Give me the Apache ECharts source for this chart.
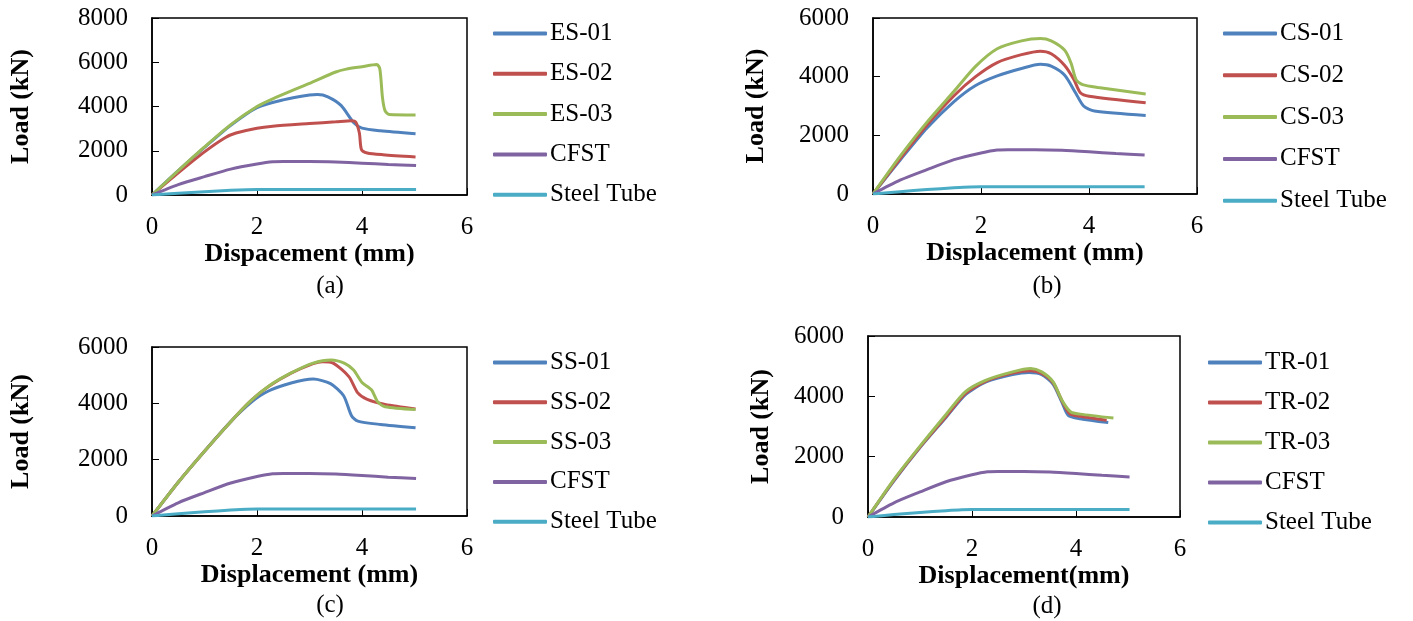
<!DOCTYPE html>
<html lang="en">
<head>
  <meta charset="UTF-8" />
  <title>Load - displacement curves</title>
  <style>
    body { margin: 0; background: #fff }
    #chart { width: 1413px; height: 621px }
  </style>
  <script src="https://cdn.jsdelivr.net/npm/echarts@6/dist/echarts.min.js"></script>
</head>
<body>
  <div id="chart"></div>
  <script>
    // [displacement (mm), load (kN)]

    // shared reference curves
    const cfst = [[0,0],[0.5,470],[1.0,830],[1.5,1170],[2.0,1400],[2.3,1500],[2.5,1510],[3.0,1510],[3.5,1490],[4.0,1440],[4.5,1380],[5.03,1330]];
    const steelTube = [[0,0],[0.5,80],[1.0,150],[1.5,210],[1.8,240],[2.0,245],[3.0,245],[4.0,245],[5.03,250]];

    // (a)
    const es01 = [[0,0],[0.5,1100],[1.0,2150],[1.5,3150],[2.0,3950],[2.5,4300],[3.0,4520],[3.15,4540],[3.35,4440],[3.6,4050],[3.85,3250],[4.0,3020],[4.35,2900],[5.02,2770]];
    const es02 = [[0,0],[0.5,1000],[1.0,1950],[1.4,2600],[1.6,2800],[2.0,3020],[2.3,3110],[3.0,3230],[3.5,3310],[3.8,3360],[3.88,3300],[3.95,2800],[3.99,2050],[4.1,1900],[4.4,1820],[5.02,1720]];
    const es03 = [[0,0],[0.5,1100],[1.0,2170],[1.5,3180],[2.0,4000],[2.3,4350],[3.0,5050],[3.5,5560],[3.7,5690],[4.0,5800],[4.28,5900],[4.34,5700],[4.39,4400],[4.44,3800],[4.52,3640],[5.02,3620]];

    // (b)
    const cs01 = [[0,0],[0.5,1150],[1.0,2250],[1.5,3150],[1.9,3700],[2.3,4030],[2.75,4280],[3.1,4420],[3.3,4360],[3.55,4050],[3.75,3450],[3.9,3000],[4.1,2830],[5.05,2680]];
    const cs02 = [[0,0],[0.5,1200],[1.0,2350],[1.5,3350],[1.9,4000],[2.3,4480],[2.75,4750],[3.1,4870],[3.3,4780],[3.55,4380],[3.72,3900],[3.84,3450],[4.0,3330],[5.05,3110]];
    const cs03 = [[0,0],[0.5,1280],[1.0,2450],[1.5,3500],[1.9,4350],[2.3,4950],[2.75,5220],[3.1,5300],[3.3,5220],[3.55,4900],[3.67,4450],[3.76,3900],[3.88,3730],[4.17,3630],[5.05,3410]];

    // (c)
    const ss01 = [[0,0],[0.5,1200],[1.0,2300],[1.5,3350],[1.9,4050],[2.2,4420],[2.65,4720],[3.07,4860],[3.4,4700],[3.65,4270],[3.8,3560],[3.92,3370],[4.35,3250],[5.02,3130]];
    const ss02 = [[0,0],[0.5,1200],[1.0,2300],[1.5,3350],[1.9,4120],[2.22,4600],[2.65,5070],[3.07,5410],[3.25,5480],[3.46,5420],[3.75,4950],[3.92,4370],[4.1,4140],[4.44,3960],[5.02,3800]];
    const ss03 = [[0,0],[0.5,1200],[1.0,2300],[1.5,3350],[1.9,4120],[2.22,4610],[2.65,5080],[3.07,5430],[3.41,5540],[3.67,5420],[3.84,5180],[4.0,4740],[4.18,4480],[4.3,4050],[4.44,3880],[5.02,3780]];

    // (d)
    const tr01 = [[0,0],[0.5,1200],[1.0,2300],[1.5,3300],[1.87,4050],[2.26,4470],[2.78,4720],[3.1,4790],[3.34,4720],[3.56,4400],[3.73,3800],[3.85,3370],[4.08,3260],[4.62,3130]];
    const tr02 = [[0,0],[0.5,1220],[1.0,2320],[1.5,3330],[1.87,4090],[2.26,4500],[2.78,4770],[3.13,4850],[3.34,4760],[3.56,4450],[3.73,3850],[3.88,3420],[4.08,3340],[4.59,3210]];
    const tr03 = [[0,0],[0.5,1250],[1.0,2350],[1.5,3400],[1.87,4150],[2.26,4530],[2.78,4810],[3.13,4920],[3.34,4810],[3.56,4480],[3.73,3870],[3.9,3480],[4.08,3410],[4.72,3280]];

    const xTicks = [0, 2, 4, 6];
    const yMaxes = [8000, 6000, 6000, 6000];
    const xTitles = ['Dispacement (mm)', 'Displacement (mm)', 'Displacement (mm)', 'Displacement(mm)'];
    const captions = ['(a)', '(b)', '(c)', '(d)'];

    const panels = [
      { names: ['ES-01', 'ES-02', 'ES-03'], data: [es01, es02, es03] },
      { names: ['CS-01', 'CS-02', 'CS-03'], data: [cs01, cs02, cs03] },
      { names: ['SS-01', 'SS-02', 'SS-03'], data: [ss01, ss02, ss03] },
      { names: ['TR-01', 'TR-02', 'TR-03'], data: [tr01, tr02, tr03] }
    ];

    // excel 2010 palette
    const colors = ['#4F81BD', '#C0504D', '#9BBB59', '#8064A2', '#4BACC6'];
    const font = 'Liberation Serif';

    // layout of the four panels (px)
    const grids = [
      { left: 152, top: 18, width: 315, height: 177 },
      { left: 873, top: 18, width: 324, height: 176 },
      { left: 152, top: 347, width: 315, height: 169 },
      { left: 868, top: 336, width: 312, height: 181 }
    ];
    const legendPos = [
      { left: 493, top: 21, itemGap: 15.3 },
      { left: 1223, top: 21, itemGap: 16.8 },
      { left: 493, top: 350, itemGap: 14.8 },
      { left: 1208, top: 350, itemGap: 15 }
    ];
    const yNameGap = [118, 104, 118, 94];
    const captionPos = [[330, 286], [1047, 286], [330, 605], [1047, 606]];

    const chart = echarts.init(document.getElementById('chart'));

    const option = {
      animation: false,
      backgroundColor: '#fff',
      color: colors,
      grid: grids.map(g => Object.assign({ show: true, borderColor: '#000', borderWidth: 1.5 }, g)),
      xAxis: grids.map((g, i) => ({
        type: 'value', gridIndex: i,
        min: xTicks[0], max: xTicks[xTicks.length - 1], interval: 2,
        name: xTitles[i], nameLocation: 'middle', nameGap: 41,
        nameTextStyle: { fontFamily: font, fontWeight: 'bold', fontSize: 26, color: '#000' },
        axisLine: { lineStyle: { color: '#000', width: 1.5 } },
        axisTick: { inside: true, length: 7, lineStyle: { color: '#000' } },
        axisLabel: { fontFamily: font, fontSize: 25, color: '#000', margin: 20 },
        splitLine: { show: false }
      })),
      yAxis: grids.map((g, i) => ({
        type: 'value', gridIndex: i,
        min: 0, max: yMaxes[i], interval: 2000,
        name: 'Load (kN)', nameLocation: 'middle', nameGap: yNameGap[i],
        nameTextStyle: { fontFamily: font, fontWeight: 'bold', fontSize: 26, color: '#000' },
        axisLine: { show: true, lineStyle: { color: '#000', width: 1.5 } },
        axisTick: { show: true, inside: true, length: 7, lineStyle: { color: '#000' } },
        axisLabel: { fontFamily: font, fontSize: 25, color: '#000', margin: 24, formatter: v => String(v) },
        splitLine: { show: false }
      })),
      legend: panels.map((p, i) => ({
        data: p.names.concat(['CFST', 'Steel Tube']),
        orient: 'vertical',
        left: legendPos[i].left, top: legendPos[i].top,
        itemGap: legendPos[i].itemGap,
        icon: 'roundRect',
        itemWidth: 54, itemHeight: 4,
        padding: 0,
        textStyle: { fontFamily: font, fontSize: 25, color: '#000', padding: [0, 0, 0, -2], lineHeight: 25 }
      })),
      graphic: captions.map((c, i) => ({
        type: 'text', x: captionPos[i][0], y: captionPos[i][1],
        style: { text: c, font: '25px "Liberation Serif"', fill: '#000', textAlign: 'center', textVerticalAlign: 'middle' }
      })),
      series: []
    };

    // build the series for each panel
    panels.forEach((p, i) => {
      const curves = p.data.concat([cfst, steelTube]);
      const names = p.names.concat(['CFST', 'Steel Tube']);
      curves.forEach((d, k) => {
        option.series.push({
          name: names[k],
          type: 'line',
          xAxisIndex: i, yAxisIndex: i,
          data: d,
          symbol: 'none',
          smooth: 0.25,
          lineStyle: { width: 3, color: colors[k] },
          itemStyle: { color: colors[k] },
          z: 3 + k
        });
      });
    });

    chart.setOption(option);
  </script>
</body>
</html>
